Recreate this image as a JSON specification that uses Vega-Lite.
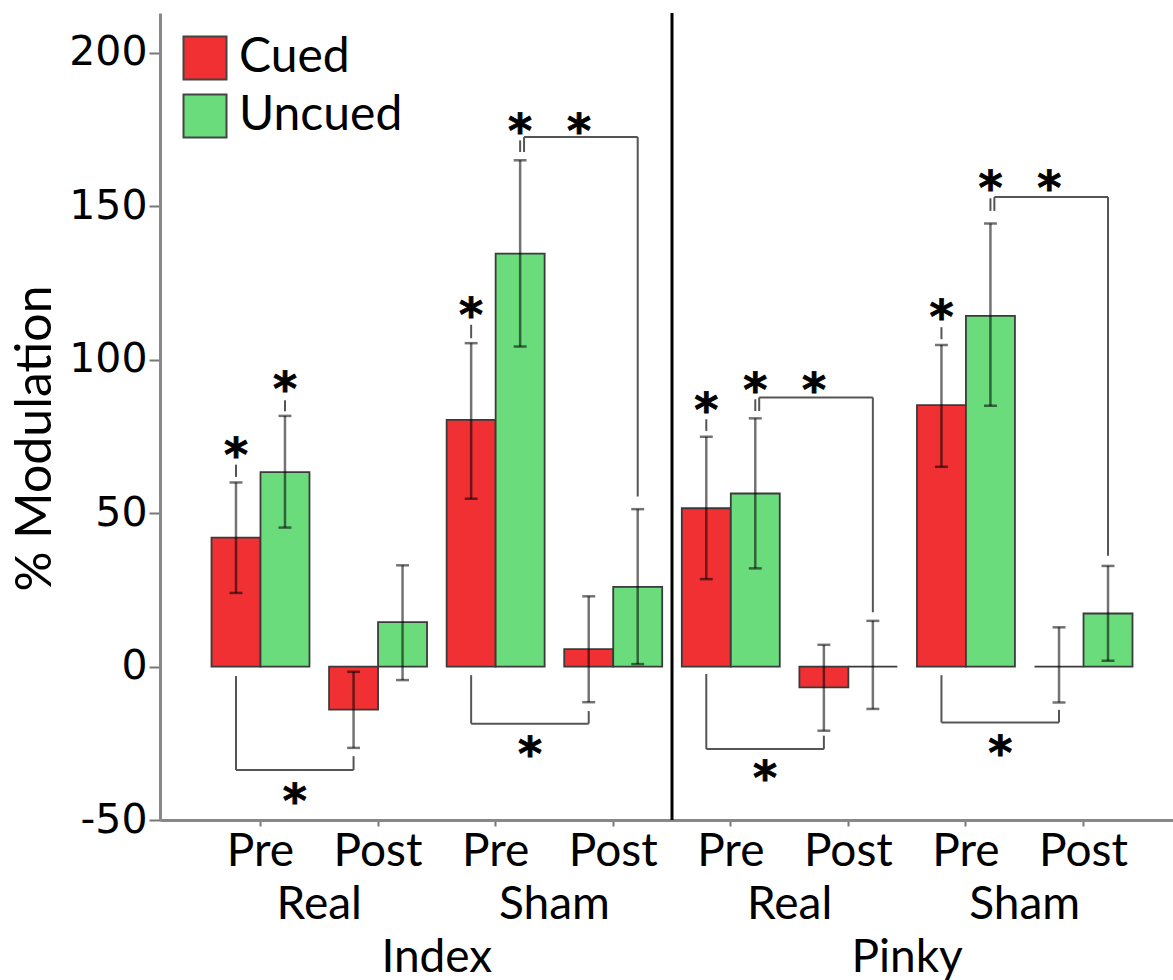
{
  "$schema": "https://vega.github.io/schema/vega-lite/v6.json",
  "usermeta": {"embedOptions": {"actions": false}},
  "width": 1013,
  "height": 807,
  "autosize": "none",
  "padding": {"left": 160, "top": 13, "right": 0, "bottom": 160},
  "background": "white",
  "config": {
    "view": {"stroke": null},
    "axis": {"grid": false, "labelColor": "black", "titleColor": "black"}
  },
  "layer": [
    {
      "layer": [
        {
          "mark": {"type": "rule", "color": "#8a8a8a", "strokeWidth": 3},
          "encoding": {"y": {"datum": 213}}
        },
        {
          "data": {"values": [
            {"cond": "Index Real Pre", "cue": "Cued", "value": 42, "lo": 24, "hi": 60},
            {"cond": "Index Real Pre", "cue": "Uncued", "value": 63.4, "lo": 45.3, "hi": 81.7},
            {"cond": "Index Real Post", "cue": "Cued", "value": -14, "lo": -26.5, "hi": -1.7},
            {"cond": "Index Real Post", "cue": "Uncued", "value": 14.5, "lo": -4.4, "hi": 33},
            {"cond": "Index Sham Pre", "cue": "Cued", "value": 80.4, "lo": 54.7, "hi": 105.4},
            {"cond": "Index Sham Pre", "cue": "Uncued", "value": 134.6, "lo": 104.3, "hi": 165},
            {"cond": "Index Sham Post", "cue": "Cued", "value": 5.7, "lo": -11.6, "hi": 22.9},
            {"cond": "Index Sham Post", "cue": "Uncued", "value": 26, "lo": 0.8, "hi": 51.3},
            {"cond": "Pinky Real Pre", "cue": "Cued", "value": 51.6, "lo": 28.5, "hi": 74.9},
            {"cond": "Pinky Real Pre", "cue": "Uncued", "value": 56.4, "lo": 32, "hi": 80.9},
            {"cond": "Pinky Real Post", "cue": "Cued", "value": -6.8, "lo": -20.9, "hi": 7.1},
            {"cond": "Pinky Real Post", "cue": "Uncued", "value": 0, "lo": -13.8, "hi": 14.9},
            {"cond": "Pinky Sham Pre", "cue": "Cued", "value": 85.2, "lo": 65.1, "hi": 104.8},
            {"cond": "Pinky Sham Pre", "cue": "Uncued", "value": 114.3, "lo": 85, "hi": 144.4},
            {"cond": "Pinky Sham Post", "cue": "Cued", "value": 0, "lo": -11.7, "hi": 12.8},
            {"cond": "Pinky Sham Post", "cue": "Uncued", "value": 17.3, "lo": 1.9, "hi": 32.8}
          ]},
          "layer": [
            {
              "mark": {"type": "bar", "stroke": "#3a3a3a", "strokeWidth": 1.8, "opacity": 1},
              "encoding": {
                "x": {
                  "field": "cond", "type": "nominal", "sort": null,
                  "scale": {
                    "domain": ["Index Real Pre", "Index Real Post", "Index Sham Pre", "Index Sham Post", "Pinky Real Pre", "Pinky Real Post", "Pinky Sham Pre", "Pinky Sham Post"],
                    "range": [0, 1024], "paddingInner": 0.1667, "paddingOuter": 0.438
                  },
                  "axis": {
                    "orient": "bottom", "title": null, "labelAngle": 0,
                    "labelExpr": "split(datum.value, ' ')[2]",
                    "labelFont": "Lato", "labelFontSize": 46, "labelColor": "black",
                    "labelBaseline": "alphabetic", "labelPadding": 39,
                    "tickSize": 6, "tickColor": "#777", "tickWidth": 2,
                    "domainColor": "#888", "domainWidth": 3
                  }
                },
                "xOffset": {"field": "cue", "type": "nominal", "scale": {"paddingInner": 0, "paddingOuter": 0}},
                "y": {
                  "field": "value", "type": "quantitative", "title": "% Modulation",
                  "scale": {"domain": [-50, 213], "nice": false, "zero": false},
                  "axis": {
                    "values": [-50, 0, 50, 100, 150, 200],
                    "labelExpr": "'' + datum.value",
                    "labelFont": "DejaVu Sans", "labelFontSize": 41, "labelColor": "black",
                    "labelPadding": 2, "tickSize": 11, "tickColor": "#777", "tickWidth": 2,
                    "domainColor": "#888", "domainWidth": 3,
                    "titleFont": "Lato", "titleFontSize": 50, "titleFontWeight": "normal",
                    "titleColor": "black", "titlePadding": 8, "titleY": 425
                  }
                },
                "color": {
                  "field": "cue", "type": "nominal",
                  "scale": {"domain": ["Cued", "Uncued"], "range": ["#F03032", "#6BDC7C"]},
                  "legend": {
                    "orient": "top-left", "title": null, "offset": 21, "padding": 0,
                    "symbolType": "square", "symbolSize": 1849, "symbolStrokeColor": "#444",
                    "symbolStrokeWidth": 2, "symbolOpacity": 1,
                    "labelFont": "Lato", "labelFontSize": 48, "labelColor": "black",
                    "labelLimit": 400,
                    "rowPadding": 6, "labelOffset": 10
                  }
                }
              }
            },
            {
              "transform": [{"filter": "datum.cue == 'Cued'"}],
              "layer": [
                {
                  "mark": {"type": "rule", "color": "black", "opacity": 0.55, "strokeWidth": 2.5},
                  "encoding": {
                    "x": {"field": "cond", "type": "nominal", "bandPosition": 0.25},
                    "y": {"field": "lo", "type": "quantitative", "title": "% Modulation"},
                    "y2": {"field": "hi"}
                  }
                },
                {
                  "mark": {"type": "rule", "color": "black", "opacity": 0.55, "strokeWidth": 2.5},
                  "encoding": {
                    "x": {"field": "cond", "type": "nominal", "bandPosition": 0.184},
                    "x2": {"field": "cond", "bandPosition": 0.316},
                    "y": {"field": "lo", "type": "quantitative", "title": "% Modulation"}
                  }
                },
                {
                  "mark": {"type": "rule", "color": "black", "opacity": 0.55, "strokeWidth": 2.5},
                  "encoding": {
                    "x": {"field": "cond", "type": "nominal", "bandPosition": 0.184},
                    "x2": {"field": "cond", "bandPosition": 0.316},
                    "y": {"field": "hi", "type": "quantitative", "title": "% Modulation"}
                  }
                }
              ]
            },
            {
              "transform": [{"filter": "datum.cue == 'Uncued'"}],
              "layer": [
                {
                  "mark": {"type": "rule", "color": "black", "opacity": 0.55, "strokeWidth": 2.5},
                  "encoding": {
                    "x": {"field": "cond", "type": "nominal", "bandPosition": 0.75},
                    "y": {"field": "lo", "type": "quantitative", "title": "% Modulation"},
                    "y2": {"field": "hi"}
                  }
                },
                {
                  "mark": {"type": "rule", "color": "black", "opacity": 0.55, "strokeWidth": 2.5},
                  "encoding": {
                    "x": {"field": "cond", "type": "nominal", "bandPosition": 0.684},
                    "x2": {"field": "cond", "bandPosition": 0.816},
                    "y": {"field": "lo", "type": "quantitative", "title": "% Modulation"}
                  }
                },
                {
                  "mark": {"type": "rule", "color": "black", "opacity": 0.55, "strokeWidth": 2.5},
                  "encoding": {
                    "x": {"field": "cond", "type": "nominal", "bandPosition": 0.684},
                    "x2": {"field": "cond", "bandPosition": 0.816},
                    "y": {"field": "hi", "type": "quantitative", "title": "% Modulation"}
                  }
                }
              ]
            }
          ]
        },
        {
          "mark": {"type": "rule", "color": "#666", "strokeWidth": 2},
          "encoding": {"y": {"datum": 0}}
        },
        {
          "data": {"values": [
            {"cond": "Index Real Pre", "cue": "Cued", "star": 71.8, "dlo": 61.8, "dhi": 65.8},
            {"cond": "Index Real Pre", "cue": "Uncued", "star": 93.3, "dlo": 83.2, "dhi": 86.8},
            {"cond": "Index Sham Pre", "cue": "Cued", "star": 117.4, "dlo": 107, "dhi": 111.4},
            {"cond": "Index Sham Pre", "cue": "Uncued", "star": 177.5, "dlo": 167.7, "dhi": 171.5},
            {"cond": "Pinky Real Pre", "cue": "Cued", "star": 86.6, "dlo": 76.8, "dhi": 80.6},
            {"cond": "Pinky Real Pre", "cue": "Uncued", "star": 93.1, "dlo": 83.3, "dhi": 87.1},
            {"cond": "Pinky Sham Pre", "cue": "Cued", "star": 117, "dlo": 106.7, "dhi": 110.6},
            {"cond": "Pinky Sham Pre", "cue": "Uncued", "star": 158.8, "dlo": 148.5, "dhi": 152.6}
          ]},
          "layer": [
            {
              "transform": [{"filter": "datum.cue == 'Cued'"}],
              "layer": [
                {
                  "mark": {"type": "rule", "color": "#555", "strokeWidth": 2},
                  "encoding": {
                    "x": {"field": "cond", "type": "nominal", "bandPosition": 0.25},
                    "y": {"field": "dlo", "type": "quantitative", "title": "% Modulation"},
                    "y2": {"field": "dhi"}
                  }
                },
                {
                  "mark": {"type": "text", "text": "*", "font": "DejaVu Sans", "fontWeight": "bold", "fontSize": 46, "baseline": "alphabetic", "dy": 25, "color": "black", "stroke": "black", "strokeWidth": 0.8},
                  "encoding": {
                    "x": {"field": "cond", "type": "nominal", "bandPosition": 0.25},
                    "y": {"field": "star", "type": "quantitative", "title": "% Modulation"}
                  }
                }
              ]
            },
            {
              "transform": [{"filter": "datum.cue == 'Uncued'"}],
              "layer": [
                {
                  "mark": {"type": "rule", "color": "#555", "strokeWidth": 2},
                  "encoding": {
                    "x": {"field": "cond", "type": "nominal", "bandPosition": 0.75},
                    "y": {"field": "dlo", "type": "quantitative", "title": "% Modulation"},
                    "y2": {"field": "dhi"}
                  }
                },
                {
                  "mark": {"type": "text", "text": "*", "font": "DejaVu Sans", "fontWeight": "bold", "fontSize": 46, "baseline": "alphabetic", "dy": 25, "color": "black", "stroke": "black", "strokeWidth": 0.8},
                  "encoding": {
                    "x": {"field": "cond", "type": "nominal", "bandPosition": 0.75},
                    "y": {"field": "star", "type": "quantitative", "title": "% Modulation"}
                  }
                }
              ]
            }
          ]
        },
        {
          "data": {"values": [
            {"from": "Index Real Pre", "to": "Index Real Post", "kind": "lower", "start": -3.1, "level": -33.7, "end": -29.2, "star": -40.8},
            {"from": "Index Sham Pre", "to": "Index Sham Post", "kind": "lower", "start": -2.8, "level": -18.6, "end": -14.5, "star": -25.4},
            {"from": "Pinky Real Pre", "to": "Pinky Real Post", "kind": "lower", "start": -2.4, "level": -26.9, "end": -22.5, "star": -33.4},
            {"from": "Pinky Sham Pre", "to": "Pinky Sham Post", "kind": "lower", "start": -2.8, "level": -18.2, "end": -14.1, "star": -25.2},
            {"from": "Index Sham Pre", "to": "Index Sham Post", "kind": "upper", "start": 167.7, "level": 172.6, "end": 55.4, "star": 177.5},
            {"from": "Pinky Real Pre", "to": "Pinky Real Post", "kind": "upper", "start": 83.3, "level": 87.7, "end": 17.7, "star": 93.1},
            {"from": "Pinky Sham Pre", "to": "Pinky Sham Post", "kind": "upper", "start": 148.5, "level": 153, "end": 36.1, "star": 158.8}
          ]},
          "layer": [
            {
              "transform": [{"filter": "datum.kind == 'lower'"}],
              "layer": [
                {
                  "mark": {"type": "rule", "color": "#555", "strokeWidth": 2},
                  "encoding": {
                    "x": {"field": "from", "type": "nominal", "bandPosition": 0.25},
                    "y": {"field": "start", "type": "quantitative", "title": "% Modulation"},
                    "y2": {"field": "level"}
                  }
                },
                {
                  "mark": {"type": "rule", "color": "#555", "strokeWidth": 2},
                  "encoding": {
                    "x": {"field": "from", "type": "nominal", "bandPosition": 0.25},
                    "x2": {"field": "to", "bandPosition": 0.25},
                    "y": {"field": "level", "type": "quantitative", "title": "% Modulation"}
                  }
                },
                {
                  "mark": {"type": "rule", "color": "#555", "strokeWidth": 2},
                  "encoding": {
                    "x": {"field": "to", "type": "nominal", "bandPosition": 0.25},
                    "y": {"field": "level", "type": "quantitative", "title": "% Modulation"},
                    "y2": {"field": "end"}
                  }
                },
                {
                  "mark": {"type": "text", "text": "*", "font": "DejaVu Sans", "fontWeight": "bold", "fontSize": 46, "baseline": "alphabetic", "dy": 25, "color": "black", "stroke": "black", "strokeWidth": 0.8},
                  "encoding": {
                    "x": {"field": "from", "type": "nominal", "bandPosition": 0.85},
                    "y": {"field": "star", "type": "quantitative", "title": "% Modulation"}
                  }
                }
              ]
            },
            {
              "transform": [{"filter": "datum.kind == 'upper'"}],
              "layer": [
                {
                  "mark": {"type": "rule", "color": "#555", "strokeWidth": 2},
                  "encoding": {
                    "x": {"field": "from", "type": "nominal", "bandPosition": 0.79},
                    "y": {"field": "start", "type": "quantitative", "title": "% Modulation"},
                    "y2": {"field": "level"}
                  }
                },
                {
                  "mark": {"type": "rule", "color": "#555", "strokeWidth": 2},
                  "encoding": {
                    "x": {"field": "from", "type": "nominal", "bandPosition": 0.79},
                    "x2": {"field": "to", "bandPosition": 0.75},
                    "y": {"field": "level", "type": "quantitative", "title": "% Modulation"}
                  }
                },
                {
                  "mark": {"type": "rule", "color": "#555", "strokeWidth": 2},
                  "encoding": {
                    "x": {"field": "to", "type": "nominal", "bandPosition": 0.75},
                    "y": {"field": "level", "type": "quantitative", "title": "% Modulation"},
                    "y2": {"field": "end"}
                  }
                },
                {
                  "mark": {"type": "text", "text": "*", "font": "DejaVu Sans", "fontWeight": "bold", "fontSize": 46, "baseline": "alphabetic", "dy": 25, "color": "black", "stroke": "black", "strokeWidth": 0.8},
                  "encoding": {
                    "x": {"field": "to", "type": "nominal", "bandPosition": 0.15},
                    "y": {"field": "star", "type": "quantitative", "title": "% Modulation"}
                  }
                }
              ]
            }
          ]
        }
      ]
    },
    {
      "data": {"values": [
        {"session": "Index Real"}, {"session": "Index Sham"}, {"session": "Pinky Real"}, {"session": "Pinky Sham"}
      ]},
      "mark": {"type": "rule", "opacity": 0},
      "encoding": {
        "x": {
          "field": "session", "type": "nominal", "sort": null,
          "scale": {"domain": ["Index Real", "Index Sham", "Pinky Real", "Pinky Sham"], "range": [0, 1024], "paddingInner": 0, "paddingOuter": 0.1772},
          "axis": {
            "orient": "bottom", "title": null, "labelAngle": 0,
            "labelExpr": "split(datum.value, ' ')[1]",
            "domain": false, "ticks": false, "tickSize": 0,
            "labelFont": "Lato", "labelFontSize": 46, "labelColor": "black",
            "labelBaseline": "alphabetic", "labelPadding": 98
          }
        }
      }
    },
    {
      "data": {"values": [{"finger": "Index"}]},
      "mark": {"type": "rule", "color": "black", "strokeWidth": 3},
      "encoding": {
        "x": {
          "field": "finger", "type": "nominal", "bandPosition": 1,
          "scale": {"domain": ["Index", "Pinky"], "range": [0, 1024], "paddingInner": 0, "paddingOuter": 0.0886},
          "axis": {
            "orient": "bottom", "title": null, "labelAngle": 0,
            "domain": false, "ticks": false, "tickSize": 0,
            "labelFont": "Lato", "labelFontSize": 46, "labelColor": "black",
            "labelBaseline": "alphabetic", "labelPadding": 151
          }
        }
      }
    }
  ],
  "resolve": {"scale": {"x": "independent"}, "axis": {"x": "independent"}}
}
